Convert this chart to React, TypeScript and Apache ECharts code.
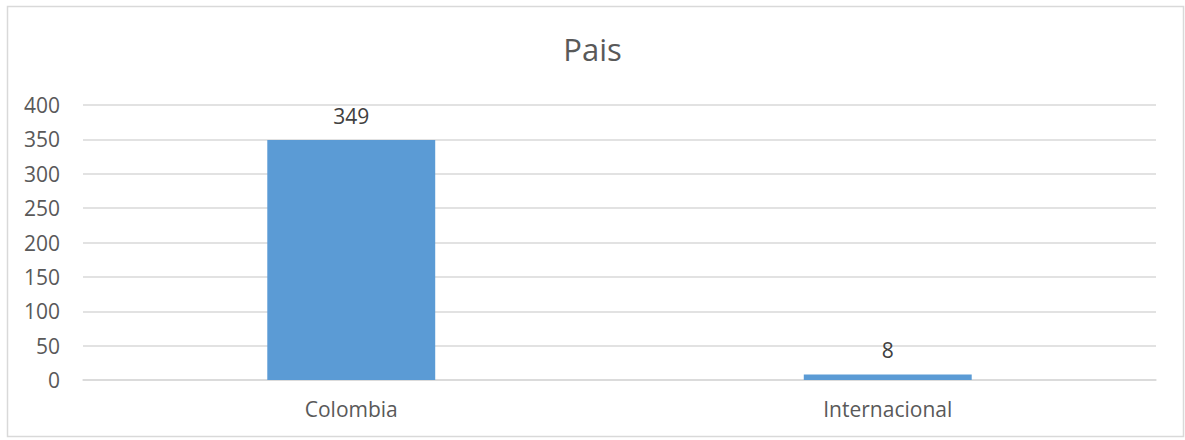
import React, { useEffect, useRef } from "react";
import * as echarts from "echarts";

const categories = ["Colombia", "Internacional"];
const values = [349, 8];
const yTicks = { min: 0, max: 400, interval: 50 };
const titleText = "Pais";

const FONT = "'Open Sans', 'Noto Sans', sans-serif";

export default function App() {
  const ref = useRef<HTMLDivElement>(null);
  useEffect(() => {
    document.body.style.margin = "0";
    const chart = echarts.init(ref.current!, null, { renderer: "svg" });
    chart.setOption({
      animation: false,
      backgroundColor: "#ffffff",
      title: {
        text: titleText,
        left: "center",
        top: 28,
        textStyle: { fontFamily: FONT, fontSize: 31, fontWeight: "normal", color: "#595959" },
      },
      graphic: [
        {
          type: "rect",
          shape: { x: 7.5, y: 6.5, width: 1176, height: 430 },
          style: { fill: "none", stroke: "#d9d9d9", lineWidth: 1.5 },
          silent: true,
        },
      ],
      grid: { left: 83, right: 29, top: 105, bottom: 60, containLabel: false },
      xAxis: {
        type: "category",
        data: categories,
        axisLine: { show: true, lineStyle: { color: "#d9d9d9", width: 1.5 } },
        axisTick: { show: false },
        axisLabel: { fontFamily: FONT, fontSize: 21, color: "#595959", margin: 18 },
      },
      yAxis: {
        type: "value",
        min: yTicks.min,
        max: yTicks.max,
        interval: yTicks.interval,
        axisLine: { show: false },
        axisTick: { show: false },
        axisLabel: { fontFamily: FONT, fontSize: 21, color: "#595959", margin: 23 },
        splitLine: { lineStyle: { color: "#d9d9d9", width: 1.5 } },
      },
      series: [
        {
          type: "bar",
          data: values,
          barWidth: "31.3%",
          itemStyle: { color: "#5b9bd5" },
          label: {
            show: true,
            position: "top",
            distance: 14,
            fontFamily: FONT,
            fontSize: 21,
            color: "#404040",
          },
        },
      ],
    });
    return () => chart.dispose();
  }, []);
  return <div ref={ref} style={{ width: 1185, height: 440 }} />;
}
